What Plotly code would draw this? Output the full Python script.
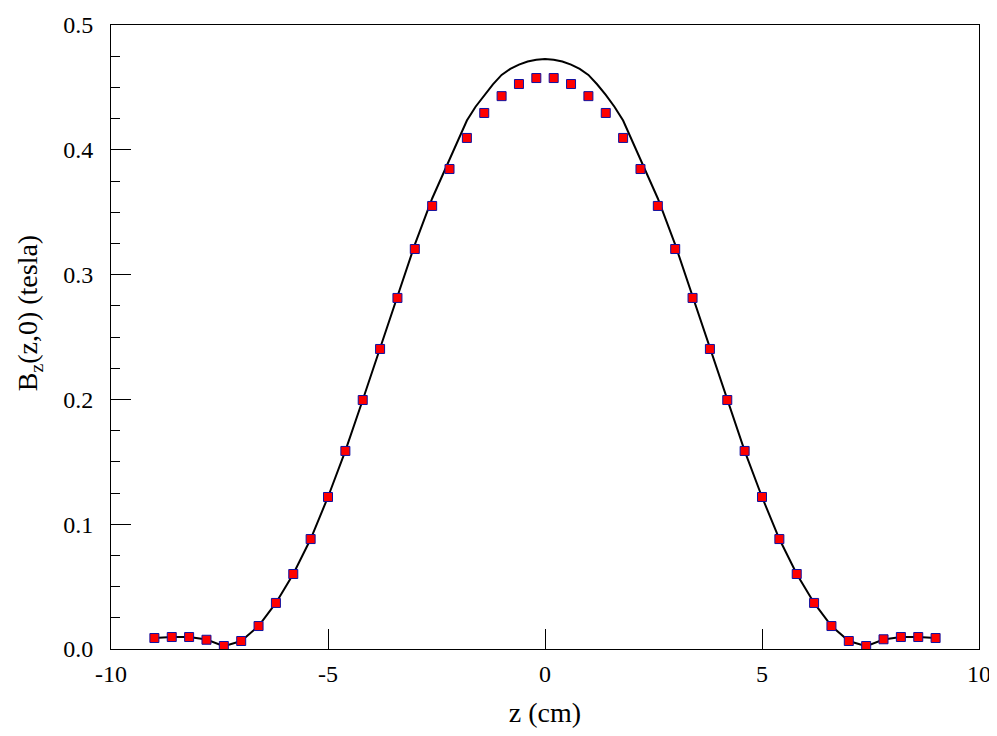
import plotly.graph_objects as go

# Measured points (markers)
z_points = [-9.0, -8.6, -8.2, -7.8, -7.4, -7.0, -6.6, -6.2, -5.8, -5.4, -5.0, -4.6,
            -4.2, -3.8, -3.4, -3.0, -2.6, -2.2, -1.8, -1.4, -1.0, -0.6, -0.2,
            0.2, 0.6, 1.0, 1.4, 1.8, 2.2, 2.6, 3.0, 3.4, 3.8, 4.2, 4.6, 5.0,
            5.4, 5.8, 6.2, 6.6, 7.0, 7.4, 7.8, 8.2, 8.6, 9.0]
b_points = [0.0088, 0.0096, 0.0096, 0.0074, 0.0024, 0.0064, 0.0184, 0.0369, 0.0601, 0.0881, 0.1218, 0.1587,
            0.1995, 0.2404, 0.2813, 0.3205, 0.3550, 0.3846, 0.4095, 0.4295, 0.4430, 0.4527, 0.4575,
            0.4575, 0.4527, 0.4430, 0.4295, 0.4095, 0.3846, 0.3550, 0.3205, 0.2813, 0.2404, 0.1995, 0.1587, 0.1218,
            0.0881, 0.0601, 0.0369, 0.0184, 0.0064, 0.0024, 0.0078, 0.0096, 0.0096, 0.0088]

# Computed curve (line)
z_curve = [-9.0, -8.6, -8.2, -7.8, -7.4, -7.0, -6.6, -6.2, -5.8, -5.4, -5.0, -4.6,
           -4.2, -3.8, -3.4, -3.0, -2.6, -2.2, -2.0, -1.8, -1.6, -1.4, -1.2, -1.0, -0.8,
           -0.6, -0.4, -0.2, 0.0, 0.2, 0.4, 0.6, 0.8, 1.0, 1.2, 1.4, 1.6, 1.8, 2.0,
           2.2, 2.6, 3.0, 3.4, 3.8, 4.2, 4.6, 5.0, 5.4, 5.8, 6.2, 6.6, 7.0, 7.4,
           7.8, 8.2, 8.6, 9.0]
b_curve = [0.0088, 0.0096, 0.0096, 0.0076, 0.0022, 0.0064, 0.0184, 0.0369, 0.0601, 0.0881, 0.1218, 0.1587,
           0.1995, 0.2410, 0.2830, 0.3240, 0.3610, 0.3917, 0.4078, 0.4235, 0.4345, 0.4440, 0.4525, 0.4600, 0.4648,
           0.4683, 0.4708, 0.4722, 0.4728, 0.4722, 0.4708, 0.4683, 0.4648, 0.4600, 0.4525, 0.4440, 0.4345, 0.4235, 0.4078,
           0.3917, 0.3610, 0.3240, 0.2830, 0.2410, 0.1995, 0.1587, 0.1218, 0.0881, 0.0601, 0.0369, 0.0184, 0.0064, 0.0022,
           0.0076, 0.0096, 0.0096, 0.0088]

x_ticks = [-10, -5, 0, 5, 10]
y_ticks = [0.0, 0.1, 0.2, 0.3, 0.4, 0.5]
y_ticklabels = ["0.0", "0.1", "0.2", "0.3", "0.4", "0.5"]

FONT = "Liberation Serif"
TICKFONT = dict(family=FONT, size=24, color="black")
TITLEFONT = dict(family=FONT, size=28, color="black")

fig = go.Figure()
fig.add_trace(go.Scatter(x=z_curve, y=b_curve, mode="lines",
                         line=dict(color="black", width=2), showlegend=False))
fig.add_trace(go.Scatter(x=z_points, y=b_points, mode="markers",
                         marker=dict(symbol="square", size=9, color="#ff0000",
                                     line=dict(color="#1010a0", width=1)),
                         showlegend=False))

fig.update_layout(
    width=986, height=720,
    margin=dict(l=103, r=15, t=17, b=79),
    paper_bgcolor="white", plot_bgcolor="white",
    font=TICKFONT,
    xaxis=dict(range=[-10, 10], tickvals=x_ticks, ticktext=[str(v) for v in x_ticks],
               tickfont=TICKFONT, ticklabeloverflow="allow",
               ticks="inside", ticklen=20, tickwidth=1, tickcolor="black",
               showline=True, linecolor="black", linewidth=1, mirror=True,
               showgrid=False, zeroline=False, ticklabelstandoff=3,
               title=dict(text="z (cm)", font=TITLEFONT, standoff=21), automargin=False),
    yaxis=dict(range=[0, 0.5], tickvals=y_ticks, ticktext=y_ticklabels,
               tickfont=TICKFONT,
               ticks="inside", ticklen=20, tickwidth=1, tickcolor="black",
               minor=dict(dtick=0.025, ticks="inside", ticklen=9, tickwidth=1, tickcolor="black", showgrid=False),
               showline=True, linecolor="black", linewidth=1, mirror=True,
               showgrid=False, zeroline=False, ticklabelstandoff=12,
               automargin=False),
    annotations=[dict(text="B<sub>z</sub>(z,0) (tesla)", xref="paper", yref="paper",
                      x=-0.0945, y=0.538, xanchor="center", yanchor="middle",
                      textangle=-90, showarrow=False, font=TITLEFONT)],
)

fig.write_html("out.html")
